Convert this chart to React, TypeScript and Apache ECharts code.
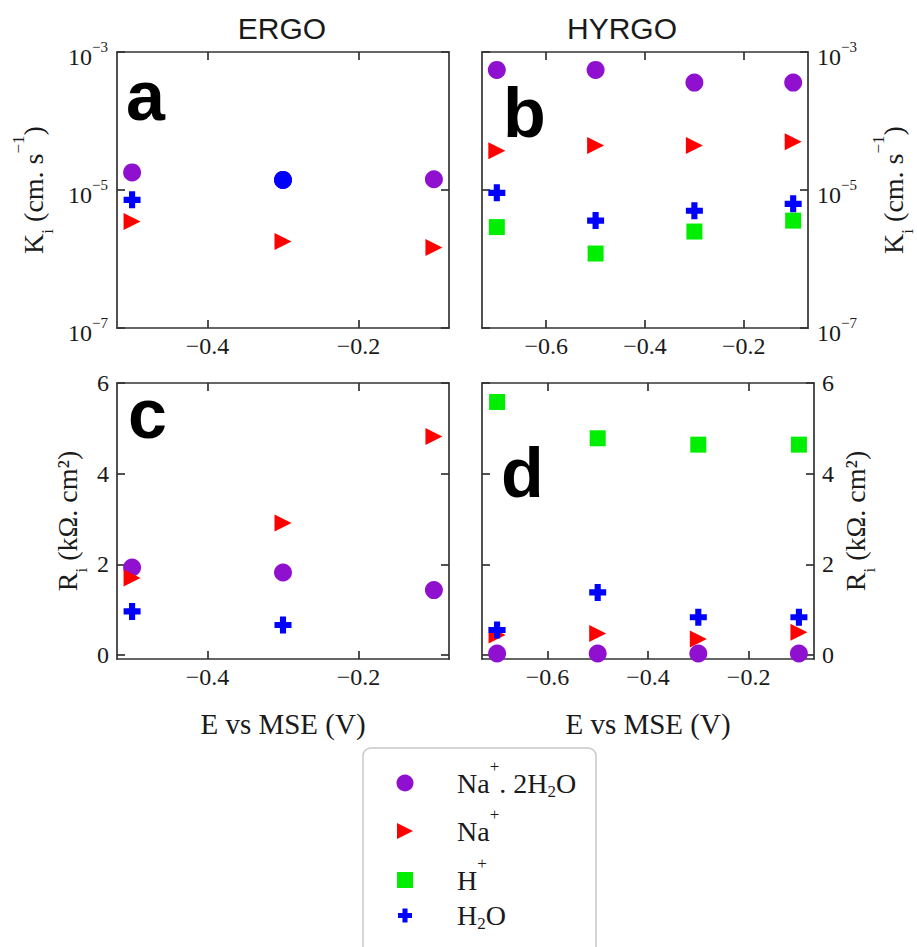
import React, { useEffect, useRef } from 'react';
import * as echarts from 'echarts';

// ---- data ----
const potentialsErgo = [-0.5, -0.3, -0.1];
const potentialsHyrgo = [-0.7, -0.5, -0.3, -0.1];

const kErgoNaHydrated = [1.8e-5, 1.4e-5, 1.43e-5];
const kErgoNa = [3.5e-6, 1.8e-6, 1.47e-6];
const kErgoH: (number | null)[] = [null, null, null];
const kErgoWater = [7.2e-6, 1.4e-5, null];

const kHyrgoNaHydrated = [5.5e-4, 5.5e-4, 3.6e-4, 3.6e-4];
const kHyrgoNa = [3.7e-5, 4.4e-5, 4.4e-5, 5.0e-5];
const kHyrgoH = [2.9e-6, 1.2e-6, 2.5e-6, 3.6e-6];
const kHyrgoWater = [9.1e-6, 3.6e-6, 5.0e-6, 6.3e-6];

const rErgoNaHydrated = [1.93, 1.82, 1.43];
const rErgoNa = [1.7, 2.91, 4.82];
const rErgoH: (number | null)[] = [null, null, null];
const rErgoWater = [0.96, 0.66, null];

const rHyrgoNaHydrated = [0.03, 0.03, 0.03, 0.03];
const rHyrgoNa = [0.44, 0.47, 0.35, 0.5];
const rHyrgoH = [5.58, 4.78, 4.64, 4.64];
const rHyrgoWater = [0.55, 1.38, 0.83, 0.83];

const speciesNames = ['Na+.2H2O', 'Na+', 'H+', 'H2O'];
const potentialTicksErgo = [-0.4, -0.2];
const potentialTicksHyrgo = [-0.6, -0.4, -0.2];
const kTicks = [1e-7, 1e-5, 1e-3];
const rTicks = [0, 2, 4, 6];
const panelTitles = ['ERGO', 'HYRGO'];
const panelLetters = ['a', 'b', 'c', 'd'];

// ---- styles ----
const SERIF = '"Liberation Serif", "Times New Roman", serif';
const SANS = '"Liberation Sans", Arial, sans-serif';
const INK = '#1a1a1a';
const AXIS = '#333';
const colors = ['#9010d0', '#ff0000', '#00ee00', '#0000ff'];
const triPath = 'path://M0,0 L10,5 L0,10 Z';
const crossPath = 'path://M3.2,0 H6.8 V3.2 H10 V6.8 H6.8 V10 H3.2 V6.8 H0 V3.2 H3.2 Z';
const symbols = ['circle', triPath, 'rect', crossPath];
const symbolSizes: any[] = [18, [17, 17], 16, 17];
const legendIconSizes = [17, 16, 16, 14];
const legendCenters = [783, 831, 880, 924];
const LEGEND_LINE = 50;

const legendLabels: Record<string, string> = {
  'Na+.2H2O': '{g| }{n|Na}{sp|+}{n|. 2H}{sb|2}{n|O}',
  'Na+': '{g| }{n|Na}{sp|+}',
  'H+': '{g| }{n|H}{sp|+}',
  'H2O': '{g| }{n|H}{sb|2}{n|O}',
};

const W = 332;
const H = 276;

const panels = [
  { left: 117, top: 52, x: potentialsErgo, xRange: [-0.52, -0.08], xTicks: potentialTicksErgo, kind: 'k', right: false,
    values: [kErgoNaHydrated, kErgoNa, kErgoH, kErgoWater], nameGap: 61, letterPos: [126, 96] },
  { left: 482, top: 52, x: potentialsHyrgo, xRange: [-0.73, -0.07], xTicks: potentialTicksHyrgo, kind: 'k', right: true,
    values: [kHyrgoNaHydrated, kHyrgoNa, kHyrgoH, kHyrgoWater], nameGap: 62, letterPos: [503, 113] },
  { left: 117, top: 383, x: potentialsErgo, xRange: [-0.52, -0.08], xTicks: potentialTicksErgo, kind: 'r', right: false,
    values: [rErgoNaHydrated, rErgoNa, rErgoH, rErgoWater], nameGap: 27, letterPos: [128, 414] },
  { left: 482, top: 383, x: potentialsHyrgo, xRange: [-0.73, -0.07], xTicks: potentialTicksHyrgo, kind: 'r', right: true,
    values: [rHyrgoNaHydrated, rHyrgoNa, rHyrgoH, rHyrgoWater], nameGap: 18, letterPos: [501, 473] },
];

const tickRich = {
  n: { fontFamily: SERIF, fontSize: 24, color: INK, lineHeight: 34 },
  sp: { fontFamily: SERIF, fontSize: 15, color: INK, lineHeight: 10, verticalAlign: 'top' },
};
const nameRich = {
  n: { fontFamily: SERIF, fontSize: 28, color: INK, lineHeight: 46 },
  sp: { fontFamily: SERIF, fontSize: 17, color: INK, lineHeight: 10, verticalAlign: 'top' },
  sb: { fontFamily: SERIF, fontSize: 17, color: INK, lineHeight: 24, verticalAlign: 'bottom' },
};
const legendRich = {
  g: { width: 38, lineHeight: LEGEND_LINE, fontSize: 10 },
  n: { fontFamily: SERIF, fontSize: 28, color: INK, lineHeight: LEGEND_LINE },
  sp: { fontFamily: SERIF, fontSize: 17, color: INK, lineHeight: 20, verticalAlign: 'top' },
  sb: { fontFamily: SERIF, fontSize: 17, color: INK, lineHeight: 20, padding: [16, 0, 0, 0] },
};

const fmtPotential = (v: number) => (v < 0 ? '\u2212' : '') + Math.abs(v).toFixed(1);
const fmtPower = (v: number) => {
  const e = Math.round(Math.log10(v));
  return `{n|10}{sp|${e < 0 ? '\u2212' : ''}${Math.abs(e)}}`;
};

function buildOption() {
  const grid: any[] = [];
  const xAxis: any[] = [];
  const yAxis: any[] = [];
  const series: any[] = [];
  const lineStyle = { color: AXIS, width: 1.7 };

  panels.forEach((p, i) => {
    grid.push({ left: p.left, top: p.top, width: W, height: H, containLabel: false });
    const xCommon = {
      gridIndex: i, type: 'value', min: p.xRange[0], max: p.xRange[1],
      axisLine: { show: true, onZero: false, lineStyle },
      axisTick: { show: true, inside: true, length: 8, lineStyle, customValues: p.xTicks },
      splitLine: { show: false },
    };
    xAxis.push({
      ...xCommon, position: 'bottom',
      axisLabel: { show: true, customValues: p.xTicks, formatter: fmtPotential, fontFamily: SERIF, fontSize: 24, color: INK, margin: 6 },
      ...(p.kind === 'r' ? { name: 'E vs MSE (V)', nameLocation: 'middle', nameGap: 50, nameTextStyle: { fontFamily: SERIF, fontSize: 29, color: INK } } : {}),
    });
    xAxis.push({ ...xCommon, position: 'top', axisLabel: { show: false } });

    const isK = p.kind === 'k';
    const yTicks = isK ? kTicks : rTicks;
    const yCommon: any = isK
      ? { gridIndex: i, type: 'log', logBase: 10, min: 1e-7, max: 1e-3 }
      : { gridIndex: i, type: 'value', min: -0.09, max: 6 };
    Object.assign(yCommon, {
      axisLine: { show: true, onZero: false, lineStyle },
      axisTick: { show: true, inside: true, length: 8, lineStyle, customValues: yTicks },
      splitLine: { show: false },
      minorTick: { show: false },
    });
    const labelled = {
      ...yCommon,
      position: p.right ? 'right' : 'left',
      axisLabel: isK
        ? { show: true, customValues: yTicks, formatter: fmtPower, rich: tickRich, margin: 9, padding: [9, 0, 0, 0] }
        : { show: true, customValues: yTicks, fontFamily: SERIF, fontSize: 24, color: INK, margin: 8 },
      name: isK ? '{n|K}{sb|i}{n| (cm. s}{sp|\u22121}{n|)}' : '{n|R}{sb|i}{n| (k\u03a9. cm\u00b2)}',
      nameLocation: 'middle',
      nameRotate: 90,
      nameGap: p.nameGap,
      nameTextStyle: { rich: nameRich },
    };
    const bare = { ...yCommon, position: p.right ? 'left' : 'right', axisLabel: { show: false } };
    yAxis.push(labelled, bare);

    speciesNames.forEach((name, s) => {
      const vals = p.values[s];
      const data = p.x.map((xv, k) => [xv, vals[k]]).filter((d) => d[1] != null);
      if (!data.length) return;
      const hydrated = p.values[0];
      const overlaps = (val: any) => hydrated[p.x.indexOf(val[0])] === val[1];
      series.push({
        type: 'scatter', name, xAxisIndex: 2 * i, yAxisIndex: 2 * i,
        data,
        symbol: s === 3 ? (val: any) => (overlaps(val) ? 'circle' : crossPath) : symbols[s],
        symbolSize: s === 3 ? (val: any) => (overlaps(val) ? 18 : symbolSizes[s]) : symbolSizes[s],
        itemStyle: { color: colors[s], opacity: 1 },
        emphasis: { disabled: true },
        z: 3,
      });
    });
  });

  const graphic: any[] = [
    { type: 'text', x: 282, y: 28, style: { text: panelTitles[0], fontFamily: SANS, fontSize: 30, fill: INK, align: 'center', verticalAlign: 'middle' } },
    { type: 'text', x: 622, y: 28, style: { text: panelTitles[1], fontFamily: SANS, fontSize: 30, fill: INK, align: 'center', verticalAlign: 'middle' } },
    { type: 'rect', shape: { x: 363, y: 748, width: 233, height: 260, r: 8 }, style: { fill: '#fff', stroke: '#c8c8c8', lineWidth: 1.5 }, z: 0 },
  ];
  panels.forEach((p, i) => {
    graphic.push({
      type: 'text', x: p.letterPos[0], y: p.letterPos[1], z: 5,
      style: { text: panelLetters[i], fontFamily: SANS, fontWeight: 'bold', fontSize: 70, fill: '#000', align: 'left', verticalAlign: 'middle' },
    });
  });

  const legend = speciesNames.map((name, s) => ({
    orient: 'vertical',
    left: 405 - legendIconSizes[s] / 2,
    top: legendCenters[s] - LEGEND_LINE / 2,
    itemWidth: legendIconSizes[s],
    itemHeight: legendIconSizes[s],
    selectedMode: false,
    padding: 0,
    data: [{ name, icon: symbols[s] }],
    formatter: (n: string) => legendLabels[n].replace('{g| }', `{g${s}| }`),
    textStyle: { rich: { ...legendRich, [`g${s}`]: { ...legendRich.g, width: 457 - (405 + legendIconSizes[s] / 2) - 5 } } },
  }));

  return {
    animation: false,
    backgroundColor: '#fff',
    grid, xAxis, yAxis, series, graphic, legend,
  };
}

export default function App() {
  const ref = useRef<HTMLDivElement>(null);
  useEffect(() => {
    if (!ref.current) return;
    const chart = echarts.init(ref.current, undefined, { renderer: 'svg' });
    chart.setOption(buildOption() as any);
    return () => chart.dispose();
  }, []);
  return <div ref={ref} style={{ position: 'fixed', left: 0, top: 0, width: 917, height: 947, background: '#fff' }} />;
}
